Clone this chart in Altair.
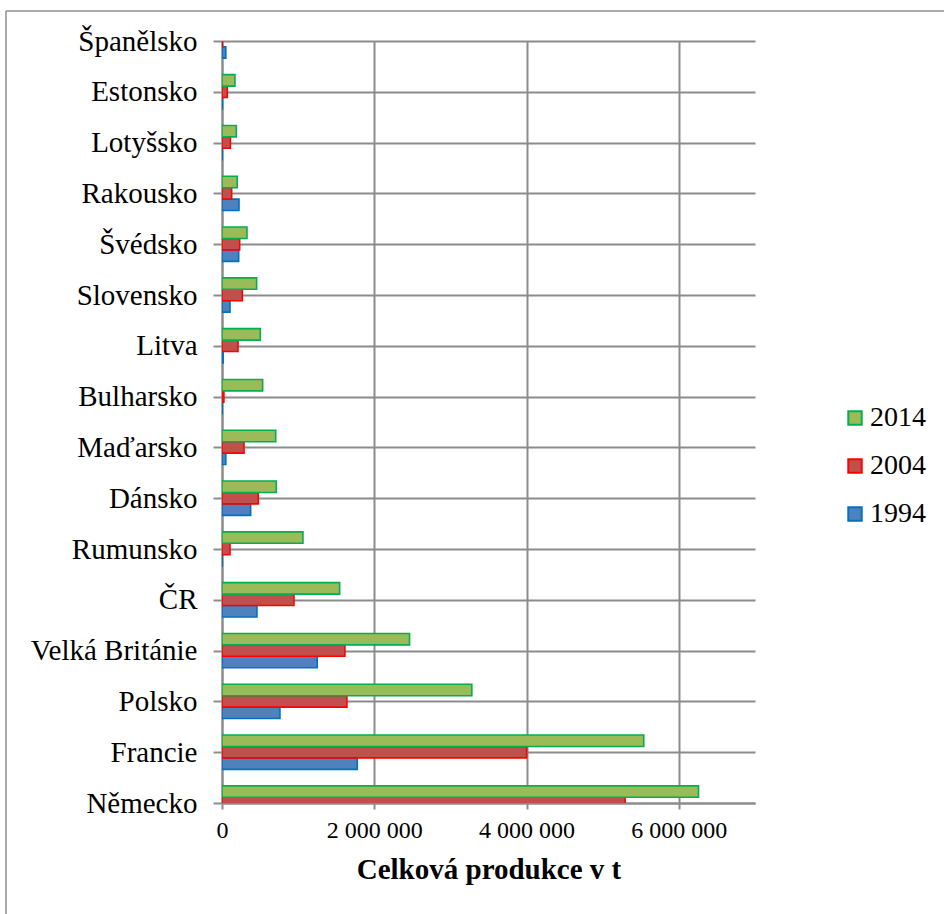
import altair as alt
import pandas as pd

# Countries listed from top to bottom of the chart
countries = ["Španělsko", "Estonsko", "Lotyšsko", "Rakousko", "Švédsko", "Slovensko",
             "Litva", "Bulharsko", "Maďarsko", "Dánsko", "Rumunsko", "ČR",
             "Velká Británie", "Polsko", "Francie", "Německo"]

# Total production in tonnes per year
v1994 = [50000, 5000, 3000, 223000, 219000, 105000, 15000, 3000, 50000, 376000,
         3000, 459000, 1251000, 761000, 1777000, None]
v2004 = [5000, 70000, 110000, 127000, 232000, 267000, 210000, 25000, 289000, 477000,
         105000, 945000, 1614000, 1640000, 4000000, 5294000]
v2014 = [None, 170000, 188000, 200000, 328000, 455000, 503000, 534000, 705000, 713000,
         1063000, 1545000, 2463000, 3281000, 5539000, 6258000]

years = ["2014", "2004", "1994"]
fills = ["#9BBB59", "#C0504D", "#4F81BD"]
strokes = ["#00B050", "#FF0000", "#0070C0"]
x_ticks = [0, 2000000, 4000000, 6000000]

rows = []
n = len(countries)
for i, c in enumerate(countries):
    for yr, vals in zip(["1994", "2004", "2014"], [v1994, v2004, v2014]):
        if vals[i] is None:
            continue
        rows.append({"zeme": c, "idx": n - 1 - i, "rok": yr, "hodnota": vals[i]})
df = pd.DataFrame(rows)

GRID = "#8c8c8c"
FONT = "Liberation Serif, Times New Roman, DejaVu Serif, serif"
label_list = "[" + ",".join("'" + c + "'" for c in reversed(countries)) + "]"

bars = alt.Chart(df).transform_calculate(
    slot="datum.rok == '2014' ? 1 : (datum.rok == '2004' ? 0 : -1)",
    y_lo="datum.idx + datum.slot * 0.225 - 0.1125",
    y_hi="datum.idx + datum.slot * 0.225 + 0.1125",
    nula="0",
).mark_rect(clip=True, strokeWidth=1.6).encode(
    x=alt.X("hodnota:Q",
            scale=alt.Scale(domain=[0, 7000000], nice=False, zero=True),
            axis=alt.Axis(values=x_ticks,
                          labelExpr="replace(format(datum.value, ','), regexp(',', 'g'), ' ')",
                          grid=True, gridColor=GRID, gridWidth=2,
                          tickSize=6, tickColor=GRID, tickWidth=2,
                          domainColor=GRID, domainWidth=2,
                          labelFont=FONT, labelFontWeight="normal",
                          labelFontSize=24, labelColor="black",
                          labelPadding=9, labelFlush=False,
                          title="Celková produkce v t", titleFont=FONT,
                          titleFontSize=29, titleFontWeight="bold", titleColor="black",
                          titlePadding=13)),
    x2=alt.X2("nula:Q"),
    y=alt.Y("y_lo:Q",
            scale=alt.Scale(domain=[0, n - 1], nice=False, zero=False),
            axis=alt.Axis(values=list(range(n)), labelExpr=label_list + "[datum.value]",
                          grid=True, gridColor=GRID, gridWidth=2,
                          tickSize=9, tickColor=GRID, tickWidth=2,
                          domainColor=GRID, domainWidth=2,
                          labelFont=FONT, labelFontWeight="normal",
                          labelFontSize=29, labelColor="black",
                          labelPadding=16, labelFlush=False, labelOverlap=False,
                          title=None)),
    y2=alt.Y2("y_hi:Q"),
    fill=alt.Fill("rok:N", scale=alt.Scale(domain=years, range=fills),
                  legend=alt.Legend(orient="none", legendX=619, legendY=363,
                                    title=None, padding=0,
                                    labelFont=FONT, labelFontWeight="normal",
                                    labelFontSize=28, labelColor="black",
                                    symbolType="square", symbolSize=180,
                                    symbolStrokeWidth=2, symbolOpacity=1,
                                    rowPadding=20, labelOffset=1)),
    stroke=alt.Stroke("rok:N", scale=alt.Scale(domain=years, range=strokes)),
)

frame_src = pd.DataFrame({"k": [0]})
frame_left = alt.Chart(frame_src).mark_rule(color="#8c8c8c", strokeWidth=1.5).encode(
    x=alt.value(-216), y=alt.value(-30), y2=alt.value(880))
frame_top = alt.Chart(frame_src).mark_rule(color="#8c8c8c", strokeWidth=1.5).encode(
    x=alt.value(-216), x2=alt.value(730), y=alt.value(-30))

chart = alt.layer(bars, frame_left, frame_top).properties(
    width=533, height=762,
    autosize=alt.AutoSizeParams(type="none"),
    padding={"left": 222, "top": 41, "right": 189, "bottom": 111},
    background="white",
).configure(
    font=FONT,
).configure_view(stroke=None)

chart.save("out.html", embed_options={"renderer": "svg", "actions": False})
